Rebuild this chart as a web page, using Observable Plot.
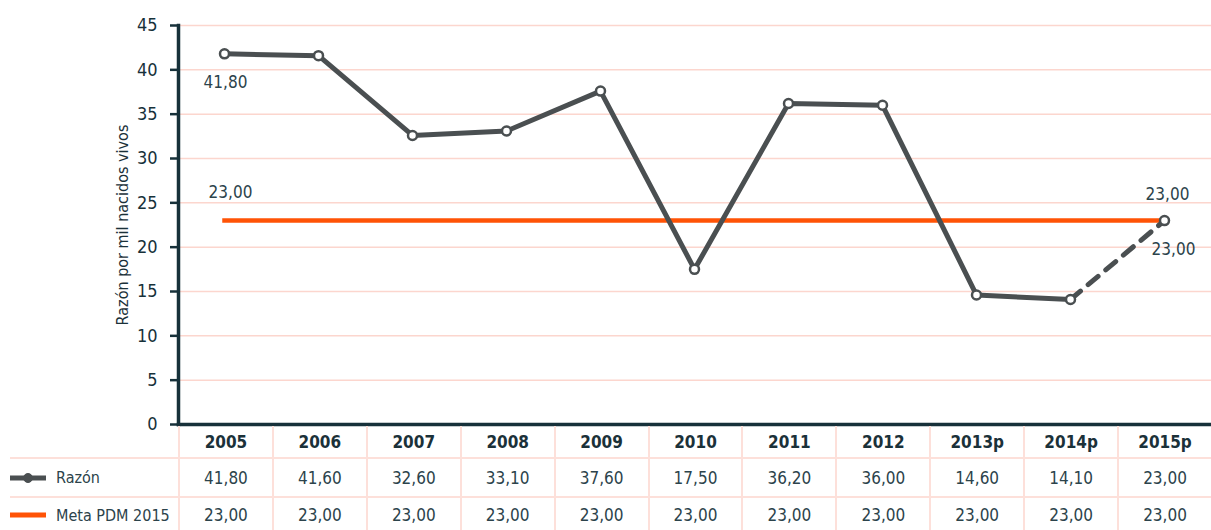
<!DOCTYPE html>
<html>
<head>
<meta charset="utf-8">
<script src="https://cdn.jsdelivr.net/npm/d3@7"></script>
<script src="https://cdn.jsdelivr.net/npm/@observablehq/plot@0.6"></script>
<style>
  html, body { margin: 0; padding: 0; background: #fff; }
  body { position: relative; width: 1211px; height: 530px; overflow: hidden; font-family: "DejaVu Sans Condensed", "DejaVu Sans", sans-serif; font-stretch: condensed; }
  #chart { position: absolute; left: 0; top: 0; }
  #chart svg { display: block; }
  #table { position: absolute; left: 0; top: 426px; }
  .tbl { display: grid; grid-template-columns: 178px repeat(11, 1fr); width: 1211px; color: #2c434b; font-size: 17px; }
  .cell { display: flex; align-items: center; justify-content: center; border-left: 2px solid #fde0da; box-sizing: border-box; white-space: nowrap; }
  .cell.first { border-left: none; justify-content: flex-start; font-size: 16px; }
  .hdr { height: 31px; color: #1b3139; font-weight: bold; font-size: 17px; }
  .row { height: 39px; border-top: 2px solid #fde0da; }
  .row.first { margin-left: 10px; }
  .row.last { height: 36px; }
  .sw { display: inline-block; position: relative; width: 36px; height: 6px; margin-right: 10px; }
</style>
</head>
<body>
<div id="chart"></div>
<div id="table"></div>
<script>
const years = ["2005", "2006", "2007", "2008", "2009", "2010", "2011", "2012", "2013p", "2014p", "2015p"];
const razon = [41.8, 41.6, 32.6, 33.1, 37.6, 17.5, 36.2, 36.0, 14.6, 14.1, 23.0];
const meta = [23, 23, 23, 23, 23, 23, 23, 23, 23, 23, 23];
const yTicks = [0, 5, 10, 15, 20, 25, 30, 35, 40, 45];
const seriesNames = ["Razón", "Meta PDM 2015"];

const fmt = d => d.toFixed(2).replace(".", ",");
const razonData = years.map((y, i) => ({year: y, value: razon[i]}));
const metaData = years.map((y, i) => ({year: y, value: meta[i]}));
const solidData = razonData.slice(0, 10);
const dashedData = razonData.slice(9);

const grayC = "#4a4f51";
const orangeC = "#ff5306";
const darkC = "#17313a";
const labelC = "#2c434b";
const FONT = '"DejaVu Sans Condensed", "DejaVu Sans", sans-serif';

const chart = Plot.plot({
  width: 1211,
  height: 442,
  marginLeft: 178,
  marginRight: 0,
  marginTop: 25,
  marginBottom: 18,
  style: {fontFamily: FONT, background: "transparent", fontStretch: "condensed"},
  x: {type: "point", domain: years, range: [222, 1166], padding: 0, axis: null},
  y: {domain: [0, 45]},
  marks: [
    Plot.gridY(yTicks, {stroke: "#fcd6ce", strokeOpacity: 1, strokeWidth: 1.5}),
    Plot.axisY(yTicks, {tickSize: 8, tickPadding: 13, stroke: darkC, strokeWidth: 2.5, fill: darkC, fontSize: 18,
      label: "Razón por mil nacidos vivos", labelAnchor: "center", labelArrow: "none", labelOffset: 62}),
    Plot.frame({anchor: "left", stroke: darkC, strokeWidth: 3.5}),
    Plot.frame({anchor: "bottom", stroke: darkC, strokeWidth: 3.5}),
    Plot.line(metaData, {x: "year", y: "value", stroke: orangeC, strokeWidth: 4.5, strokeLinecap: "square"}),
    Plot.line(solidData, {x: "year", y: "value", stroke: grayC, strokeWidth: 5, strokeLinejoin: "round"}),
    Plot.line(dashedData, {x: "year", y: "value", stroke: grayC, strokeWidth: 5, strokeDasharray: "13,10"}),
    Plot.dot(razonData, {x: "year", y: "value", r: 4.5, fill: "#fff", stroke: grayC, strokeWidth: 2.5}),
    Plot.text([razonData[0]], {x: "year", y: "value", text: d => fmt(d.value), dy: 29, dx: 1, fill: labelC, fontSize: 17}),
    Plot.text([metaData[0]], {x: "year", y: "value", text: d => fmt(d.value), dy: -28, dx: 6, fill: labelC, fontSize: 17}),
    Plot.text([metaData[10]], {x: "year", y: "value", text: d => fmt(d.value), dy: -26, dx: 3, fill: labelC, fontSize: 17}),
    Plot.text([razonData[10]], {x: "year", y: "value", text: d => fmt(d.value), dy: 29, dx: 9, fill: labelC, fontSize: 17})
  ]
});
chart.querySelectorAll('[aria-label="y-axis label"]').forEach(e => { e.setAttribute("font-size", "16"); e.setAttribute("fill", "#1b3139"); });
document.getElementById("chart").append(chart);

// data table below the plot
const tbl = document.createElement("div");
tbl.className = "tbl";
function cell(txt, cls) {
  const c = document.createElement("div");
  c.className = "cell " + cls;
  if (txt instanceof Node) c.append(txt); else c.textContent = txt;
  tbl.append(c);
}
cell("", "hdr first");
years.forEach(y => cell(y, "hdr"));
const rows = [[seriesNames[0], razon, "razon", "row"], [seriesNames[1], meta, "meta", "row last"]];
rows.forEach(([name, vals, kind, cls]) => {
  const lab = document.createElement("span");
  lab.style.display = "flex"; lab.style.alignItems = "center";
  const sw = document.createElement("span");
  sw.className = "sw";
  if (kind === "razon") {
    sw.innerHTML = '<svg width="36" height="14" style="position:absolute;left:0;top:-4px"><line x1="0" y1="7" x2="36" y2="7" stroke="' + grayC + '" stroke-width="5"/><circle cx="18" cy="7" r="4.5" fill="' + grayC + '" stroke="' + grayC + '"/></svg>';
  } else {
    sw.innerHTML = '<svg width="36" height="14" style="position:absolute;left:0;top:-4px"><line x1="0" y1="7" x2="36" y2="7" stroke="' + orangeC + '" stroke-width="5"/></svg>';
  }
  lab.append(sw, document.createTextNode(name));
  cell(lab, cls + " first");
  vals.forEach(v => cell(fmt(v), cls));
});
document.getElementById("table").append(tbl);
</script>
</body>
</html>
